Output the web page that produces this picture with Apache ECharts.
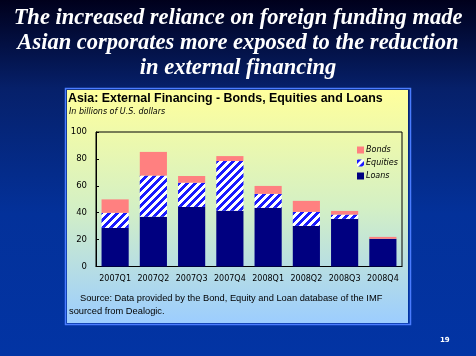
<!DOCTYPE html>
<html><head><meta charset="utf-8">
<script src="https://cdn.jsdelivr.net/npm/echarts@6/dist/echarts.min.js"></script>
<style>html,body{margin:0;padding:0;background:#02206e;}#c{width:476px;height:356px;}</style>
</head><body><div id="c"></div>
<script>
var categories = ['2007Q1','2007Q2','2007Q3','2007Q4','2008Q1','2008Q2','2008Q3','2008Q4'];
var loans    = [28.7, 37.0, 44.3, 41.4, 43.6, 30.2, 35.4, 20.6];
var equities = [11.2, 30.6, 18.0, 37.0, 10.4, 10.4, 3.2, 0.0];
var bonds    = [10.0, 17.6, 5.0, 3.7, 5.9, 8.2, 2.7, 1.4];
var yTicks = [0, 20, 40, 60, 80, 100];

var titleText = 'The increased reliance on foreign funding made\nAsian corporates more exposed to the reduction\nin external financing';
var chartTitle = 'Asia: External Financing - Bonds, Equities and Loans';
var subTitle = 'In billions of U.S. dollars';
var source1 = 'Source: Data provided by the Bond, Equity and Loan database of the IMF';
var source2 = 'sourced from Dealogic.';

// stripe pattern for equities
var pc = document.createElement('canvas');
pc.width = 8; pc.height = 8;
var pctx = pc.getContext('2d');
var img = pctx.createImageData(8, 8);
for (var py = 0; py < 8; py++) {
  for (var px = 0; px < 8; px++) {
    var i = (py * 8 + px) * 4;
    var blue = ((px + py) % 8) < 3.5;
    img.data[i] = blue ? 26 : 255;
    img.data[i+1] = blue ? 26 : 255;
    img.data[i+2] = 255;
    img.data[i+3] = 255;
  }
}
pctx.putImageData(img, 0, 0);

var chart = echarts.init(document.getElementById('c'), null, {renderer: 'canvas'});
var sans = '"Liberation Sans", Arial, sans-serif';
chart.setOption({
  animation: false,
  backgroundColor: {
    type: 'linear', x: 0, y: 0, x2: 0, y2: 1,
    colorStops: [
      {offset: 0, color: '#00001c'},
      {offset: 0.25, color: '#06206a'},
      {offset: 0.6, color: '#03319a'},
      {offset: 1, color: '#0234a4'}
    ]
  },
  graphic: [
    {type: 'rect', z: -10, silent: true,
      shape: {x: 65.5, y: 88.5, width: 345, height: 236},
      style: {fill: 'none', stroke: '#4a7cff', lineWidth: 1.5}},
    {type: 'rect', z: -9, silent: true,
      shape: {x: 67, y: 90, width: 341, height: 233},
      style: {fill: {type: 'linear', x: 0, y: 0, x2: 0, y2: 1,
        colorStops: [{offset: 0, color: '#ffff9c'}, {offset: 0.5, color: '#d4f0c4'}, {offset: 1, color: '#9ccdff'}]}}},
    {type: 'text', silent: true, left: 'center', top: 6,
      style: {text: titleText, fill: '#ffffff', font: 'italic bold 22.5px "Liberation Serif", "Times New Roman", serif',
        textAlign: 'center', lineHeight: 25, shadowColor: '#000000', shadowOffsetX: 2, shadowOffsetY: 2, shadowBlur: 0}},
    {type: 'text', silent: true, left: 68, top: 93,
      style: {text: chartTitle, fill: '#000000', font: 'bold 12.4px ' + sans}},
    {type: 'text', silent: true, left: 69, top: 108,
      style: {text: subTitle, fill: '#000000', font: 'italic 8px "DejaVu Sans", Tahoma, sans-serif'}},
    {type: 'text', silent: true, left: 80, top: 294,
      style: {text: source1, fill: '#000000', font: '9.3px ' + sans}},
    {type: 'text', silent: true, left: 69, top: 307,
      style: {text: source2, fill: '#000000', font: '9.3px ' + sans}},
    {type: 'text', silent: true, left: 440, top: 337,
      style: {text: '19', fill: '#ffffff', font: 'bold 7px "DejaVu Sans", sans-serif'}}
  ],
  legend: {
    orient: 'vertical', left: 352, top: 141,
    itemWidth: 7, itemHeight: 7, itemGap: 5, icon: 'rect',
    data: ['Bonds', 'Equities', 'Loans'],
    textStyle: {fontStyle: 'italic', fontSize: 8, color: '#000', fontFamily: '"DejaVu Sans", Tahoma, sans-serif', padding: [0,0,0,-3]}
  },
  grid: {left: 96, top: 132, width: 306, height: 134.5, show: true, borderColor: '#000', borderWidth: 1, backgroundColor: 'transparent'},
  xAxis: {
    type: 'category', data: categories,
    axisLine: {lineStyle: {color: '#000', width: 1}},
    axisTick: {inside: true, length: 3, lineStyle: {color: '#000'}},
    axisLabel: {interval: 0, color: '#000', fontSize: 8, margin: 8, fontFamily: '"DejaVu Sans", Tahoma, sans-serif'}
  },
  yAxis: {
    type: 'value', min: yTicks[0], max: yTicks[yTicks.length - 1], interval: 20,
    axisLine: {show: true, lineStyle: {color: '#000', width: 1}},
    axisTick: {show: true, inside: true, length: 3, lineStyle: {color: '#000'}},
    splitLine: {show: false},
    axisLabel: {color: '#000', fontSize: 8.5, margin: 9, fontFamily: '"DejaVu Sans", Tahoma, sans-serif'}
  },
  series: [
    {name: 'Loans', type: 'bar', stack: 'a', data: loans, barWidth: '71%', itemStyle: {color: '#000080'}},
    {name: 'Equities', type: 'bar', stack: 'a', data: equities, itemStyle: {color: {image: pc, repeat: 'repeat'}}},
    {name: 'Bonds', type: 'bar', stack: 'a', data: bonds, itemStyle: {color: '#ff8080'}}
  ]
});
</script></body></html>
